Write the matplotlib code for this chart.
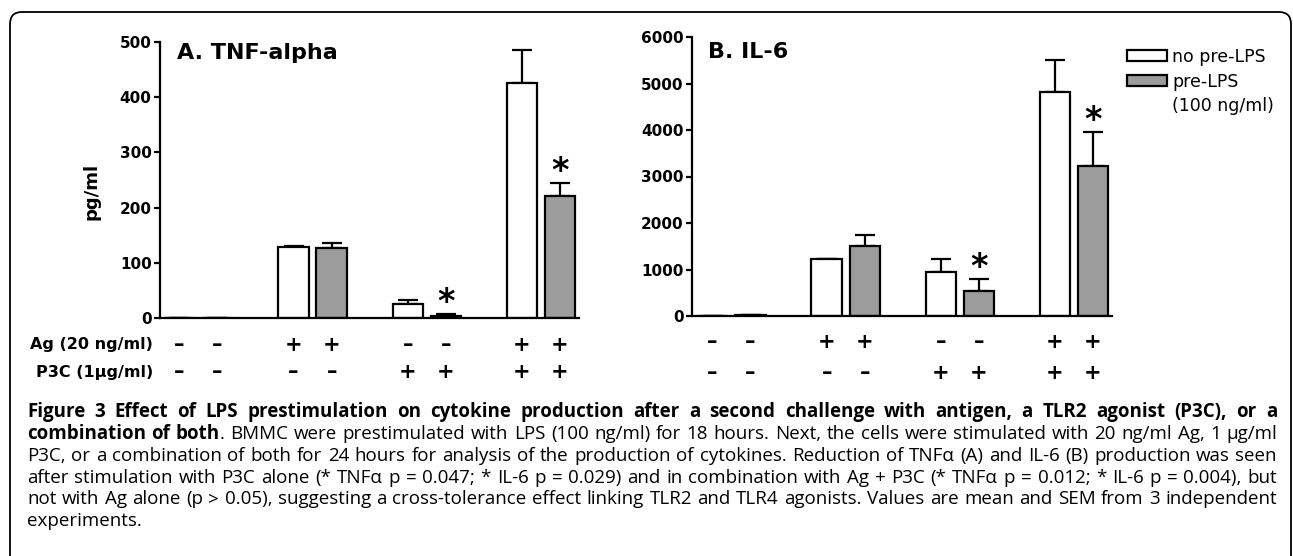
import numpy as np
import matplotlib
matplotlib.use("Agg")
import matplotlib.pyplot as plt
from matplotlib.patches import Patch, FancyBboxPatch
from matplotlib.transforms import blended_transform_factory

# data
positions_no = [0, 3, 6, 9]
positions_pre = [1, 4, 7, 10]
ag_signs = ['–', '–', '+', '+', '–', '–', '+', '+']
p3c_signs = ['–', '–', '–', '–', '+', '+', '+', '+']

tnf_no = [0, 128, 25, 425]
tnf_no_sem = [0, 3, 7, 61]
tnf_pre = [0, 126, 4, 221]
tnf_pre_sem = [0, 9, 3, 23]

il6_no = [0, 1225, 950, 4810]
il6_no_sem = [0, 0, 280, 705]
il6_pre = [30, 1495, 540, 3230]
il6_pre_sem = [0, 250, 250, 725]

sig_pre = [False, False, True, True]

legend_labels = ['no pre-LPS', 'pre-LPS', '(100 ng/ml)']

caption_lines = [
    [("Figure 3 Effect of LPS prestimulation on cytokine production after a second challenge with antigen, a TLR2 agonist (P3C), or a", "bold")],
    [("combination of both", "bold"), (". BMMC were prestimulated with LPS (100 ng/ml) for 18 hours. Next, the cells were stimulated with 20 ng/ml Ag, 1 µg/ml", "normal")],
    [("P3C, or a combination of both for 24 hours for analysis of the production of cytokines. Reduction of TNFα (A) and IL-6 (B) production was seen", "normal")],
    [("after stimulation with P3C alone (* TNFα p = 0.047; * IL-6 p = 0.029) and in combination with Ag + P3C (* TNFα p = 0.012; * IL-6 p = 0.004), but", "normal")],
    [("not with Ag alone (p > 0.05), suggesting a cross-tolerance effect linking TLR2 and TLR4 agonists. Values are mean and SEM from 3 independent", "normal")],
    [("experiments.", "normal")],
]

W, H = 1293, 556
fig = plt.figure(figsize=(W / 100, H / 100), dpi=100)
plt.rcParams['font.family'] = ['DejaVu Sans']

GRAY = '#9c9c9c'
LW = 1.6


def px(x, y):
    # pixel coords (from top-left) -> figure fraction
    return x / W, 1 - y / H


def panel(rect, xmin, no, no_sem, pre, pre_sem, ymax, ystep, title, title_xy, row_y, row_labels):
    ax = fig.add_axes(rect)
    ax.bar(positions_no, no, width=0.8, color='white', edgecolor='black', linewidth=LW, zorder=2)
    ax.bar(positions_pre, pre, width=0.8, color=GRAY, edgecolor='black', linewidth=LW, zorder=2)
    for pos, m, s in ((positions_no, no, no_sem), (positions_pre, pre, pre_sem)):
        err = np.vstack([np.zeros(len(s)), s])
        ax.errorbar(pos, m, yerr=err, fmt='none', ecolor='black', elinewidth=LW,
                    capsize=7, capthick=LW, zorder=1)
    for p, m, s, sg in zip(positions_pre, pre, pre_sem, sig_pre):
        if sg:
            ax.text(p, m + s - 0.016 * ymax, '*', ha='center', va='bottom',
                    fontsize=24, fontweight='bold')
    ax.set_ylim(0, ymax)
    ax.set_xlim(xmin, 10.5)
    ax.set_yticks(np.arange(0, ymax + 1, ystep))
    ax.set_xticks([])
    for sp in ('top', 'right'):
        ax.spines[sp].set_visible(False)
    for sp in ('left', 'bottom'):
        ax.spines[sp].set_linewidth(LW)
    ax.tick_params(axis='y', length=4, width=LW, pad=2, labelsize=11)
    for lab in ax.get_yticklabels():
        lab.set_fontweight('bold')
    fig.text(*px(*title_xy), title, fontsize=16, fontweight='bold', va='center', ha='left')

    tr = blended_transform_factory(ax.transData, fig.transFigure)
    allpos = sorted(positions_no + positions_pre)
    for yy, signs in zip(row_y, (ag_signs, p3c_signs)):
        for p, s in zip(allpos, signs):
            ax.text(p, px(0, yy)[1], s, transform=tr, ha='center', va='center',
                    fontsize=15, fontweight='bold', clip_on=False)
    if row_labels:
        for yy, lab in zip(row_y, row_labels):
            fig.text(px(153, 0)[0], px(0, yy)[1], lab, ha='right', va='center',
                     fontsize=11.5, fontweight='bold')
    return ax


ax_a = panel([160 / W, 1 - 318 / H, 419 / W, 276 / H], -0.51, tnf_no, tnf_no_sem, tnf_pre, tnf_pre_sem,
             500, 100, 'A. TNF-alpha', (177, 53), (345, 372), ['Ag (20 ng/ml)', 'P3C (1µg/ml)'])
ax_a.set_ylabel('pg/ml', fontsize=13, fontweight='bold')
ax_a.yaxis.set_label_coords(-0.143, 0.46)

ax_b = panel([692 / W, 1 - 316 / H, 420 / W, 279 / H], -0.54, il6_no, il6_no_sem, il6_pre, il6_pre_sem,
             6000, 1000, 'B. IL-6', (708, 52), (342, 373), None)

handles = [Patch(facecolor='white', edgecolor='black', linewidth=LW),
           Patch(facecolor=GRAY, edgecolor='black', linewidth=LW),
           Patch(facecolor='none', edgecolor='none')]
fig.legend(handles, legend_labels, loc='upper left', bbox_to_anchor=px(1127, 48),
           frameon=False, fontsize=12.5, handlelength=2.3, handleheight=0.6,
           handletextpad=0.3, labelspacing=0.38, borderpad=0, borderaxespad=0)

# border
fig.patches.append(FancyBboxPatch((10, -40), 1281, 556 - 12 + 40,
                                  boxstyle='round,pad=0,rounding_size=12',
                                  facecolor='none', edgecolor='black', linewidth=1.3,
                                  transform=None, figure=fig))

# caption, justified word by word
renderer = fig.canvas.get_renderer()
CAP_FONT = 'Open Sans'


def text_width(s, weight, size):
    t = fig.text(0, 0, s, fontsize=size, fontweight=weight, family=CAP_FONT)
    w = t.get_window_extent(renderer).width
    t.remove()
    return w


def split_words(line):
    words = []
    for seg, weight in line:
        parts = seg.split(' ')
        for i, p in enumerate(parts):
            if p == '':
                continue
            if i == 0 and words and not seg.startswith(' '):
                words[-1].append((p, weight))
            else:
                words.append([(p, weight)])
    return words


x_left, x_right = 27, 1277
avail = x_right - x_left
probe = 10
nat = []
for line in caption_lines[1:5]:
    nat.append(sum(text_width(s, wt, probe) for s, wt in line))
cap_size = probe * avail / max(nat) * 0.99
space_w = text_width('a a', 'normal', cap_size) - text_width('aa', 'normal', cap_size)
line_y = [412, 434, 456, 478, 499, 521]

for k, (line, yy) in enumerate(zip(caption_lines, line_y)):
    size = cap_size
    natural = sum(text_width(s, wt, size) for s, wt in line)
    if natural > avail:
        size = size * avail / natural * 0.995
    words = split_words(line)
    widths = [[text_width(s, wt, size) for s, wt in w] for w in words]
    total = sum(sum(w) for w in widths)
    if k < len(caption_lines) - 1 and len(words) > 1:
        gap = (avail - total) / (len(words) - 1)
    else:
        gap = space_w
    x = x_left
    for w, ws in zip(words, widths):
        for (s, wt), ww in zip(w, ws):
            fig.text(x / W, 1 - yy / H, s, fontsize=size, fontweight=wt,
                     family=CAP_FONT, va='center', ha='left')
            x += ww
        x += gap

fig.savefig('out.png', dpi=100)
